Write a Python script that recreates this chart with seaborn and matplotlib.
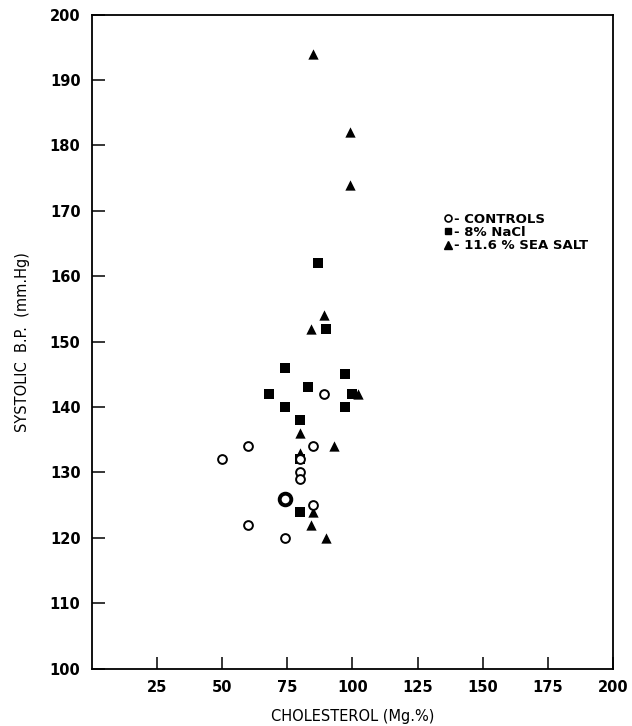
import pandas as pd
import matplotlib.pyplot as plt
import seaborn as sns
from matplotlib.lines import Line2D

# controls (open circles)
ctrl_chol = [50, 60, 60, 74, 74, 74, 80, 80, 80, 85, 85, 89]
ctrl_bp = [132, 134, 122, 126, 126, 120, 132, 130, 129, 134, 125, 142]

# 8% NaCl (squares)
nacl_chol = [68, 74, 74, 80, 80, 80, 83, 87, 90, 97, 97, 100]
nacl_bp = [142, 146, 140, 138, 132, 124, 143, 162, 152, 145, 140, 142]

# 11.6% sea salt (triangles)
sea_chol = [80, 80, 84, 85, 85, 84, 89, 90, 93, 99, 99, 102]
sea_bp = [136, 133, 152, 194, 124, 122, 154, 120, 134, 182, 174, 142]

x_ticks = [25, 50, 75, 100, 125, 150, 175, 200]
y_ticks = [100, 110, 120, 130, 140, 150, 160, 170, 180, 190, 200]
legend_labels = ["- CONTROLS", "- 8% NaCl", "- 11.6 % SEA SALT"]

ctrl = pd.DataFrame({"chol": ctrl_chol, "bp": ctrl_bp})
nacl = pd.DataFrame({"chol": nacl_chol, "bp": nacl_bp})
sea = pd.DataFrame({"chol": sea_chol, "bp": sea_bp})

sns.set_style("ticks")
plt.rcParams['font.family'] = ['DejaVu Sans']
plt.rcParams['text.color'] = 'black'
plt.rcParams['axes.labelcolor'] = 'black'
plt.rcParams['xtick.color'] = 'black'
plt.rcParams['ytick.color'] = 'black'

fig = plt.figure(figsize=(6.32, 7.26), dpi=100)
ax = fig.add_axes([0.145, 0.079, 0.825, 0.901])

sns.scatterplot(data=nacl, x="chol", y="bp", marker="s", s=50, color="black",
                edgecolor="black", linewidth=0, ax=ax, zorder=2)
sns.scatterplot(data=sea, x="chol", y="bp", marker="^", s=55, color="black",
                edgecolor="black", linewidth=0, ax=ax, zorder=2)
sns.scatterplot(data=ctrl.drop_duplicates(), x="chol", y="bp", marker="o", s=40,
                facecolor="white", edgecolor="black", linewidth=1.4, ax=ax, zorder=3)
# repeated control values drawn as a heavier ring
dups = ctrl[ctrl.duplicated()]
sns.scatterplot(data=dups, x="chol", y="bp", marker="o", s=70,
                facecolor="white", edgecolor="black", linewidth=2.8, ax=ax, zorder=4)

ax.set_xlim(0, 200)
ax.set_ylim(100, 200)
ax.set_xticks(x_ticks)
ax.set_yticks(y_ticks)
ax.tick_params(direction="in", length=9, width=1.1, labelsize=10.5, pad=8)
for lab in ax.get_xticklabels() + ax.get_yticklabels():
    lab.set_fontweight("bold")
for sp in ax.spines.values():
    sp.set_linewidth(1.3)
    sp.set_color("black")

ax.set_xlabel("CHOLESTEROL (Mg.%)", fontsize=10.5, labelpad=10)
ax.set_ylabel("SYSTOLIC  B.P.  (mm.Hg)", fontsize=10.5, labelpad=14)

handles = [
    Line2D([], [], marker="o", ls="", markersize=5, markerfacecolor="white",
           markeredgecolor="black", markeredgewidth=1.2),
    Line2D([], [], marker="s", ls="", markersize=5, color="black"),
    Line2D([], [], marker="^", ls="", markersize=5.5, color="black"),
]
ax.legend(handles, legend_labels, loc="upper left", bbox_to_anchor=(0.675, 0.697),
          frameon=False, handlelength=0.7, handletextpad=0.1, labelspacing=0.02,
          borderpad=0, borderaxespad=0, prop={"size": 9.5, "weight": "bold"})

fig.savefig("out.png", dpi=100)
